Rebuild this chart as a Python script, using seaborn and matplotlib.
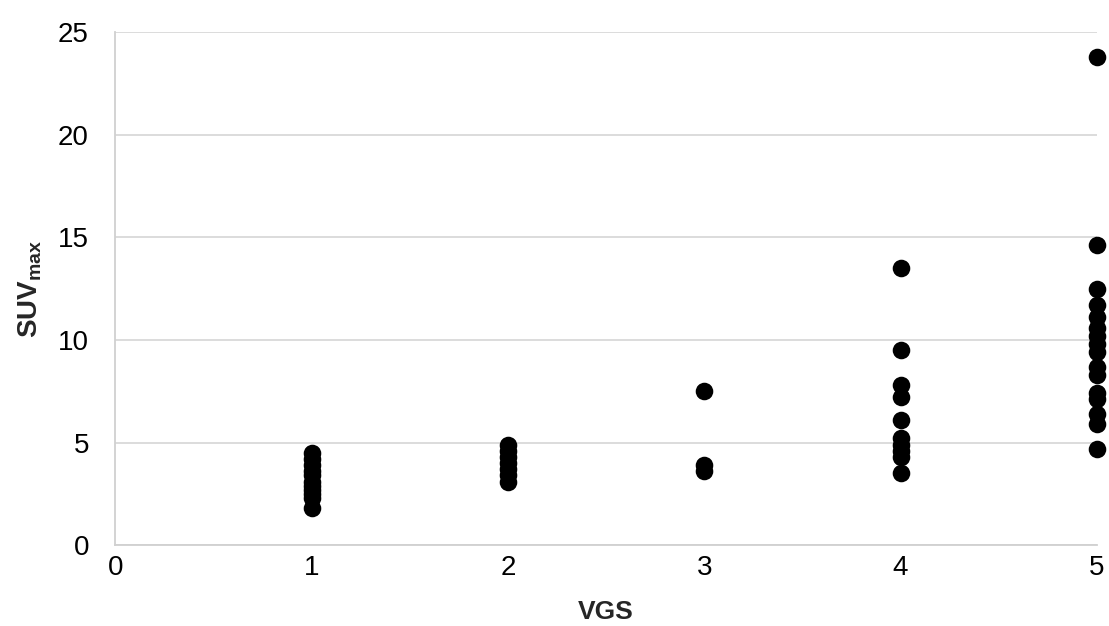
import matplotlib
matplotlib.use('Agg')
import matplotlib.pyplot as plt
import pandas as pd
import seaborn as sn

# values
vgs1 = [4.5, 4.2, 3.9, 3.6, 3.4, 3.1, 2.9, 2.7, 2.5, 2.3, 1.8]
vgs2 = [4.9, 4.6, 4.3, 4.0, 3.7, 3.4, 3.1]
vgs3 = [7.5, 3.9, 3.6]
vgs4 = [13.5, 9.5, 7.8, 7.2, 6.1, 5.2, 4.9, 4.6, 4.3, 3.5]
vgs5 = [23.8, 14.6, 12.5, 11.7, 11.1, 10.6, 10.2, 9.8, 9.4, 8.7, 8.3, 7.4, 7.1, 6.4, 5.9, 4.7]

groups = {1: vgs1, 2: vgs2, 3: vgs3, 4: vgs4, 5: vgs5}
rows = []
for g, vals in groups.items():
    for v in vals:
        rows.append({'VGS': g, 'SUVmax': v})
df = pd.DataFrame(rows)

sn.set_style('white')
plt.rcParams['font.family'] = ['Liberation Sans', 'DejaVu Sans']
plt.rcParams['mathtext.fontset'] = 'custom'
plt.rcParams['mathtext.rm'] = 'Liberation Sans'
plt.rcParams['mathtext.bf'] = 'Liberation Sans:bold'

fig, ax = plt.subplots(figsize=(11.09, 6.26), dpi=100)
fig.subplots_adjust(left=0.104, right=0.989, top=0.949, bottom=0.129)

sn.scatterplot(data=df, x='VGS', y='SUVmax', color='black', s=160,
               edgecolor='black', linewidth=0, ax=ax, clip_on=False, zorder=3)

ax.set_xlim(0, 5)
ax.set_ylim(0, 25)
ax.set_xticks(range(0, 6))
ax.set_yticks(range(0, 26, 5))
ax.yaxis.grid(True, color='#d9d9d9', linewidth=1.3)
ax.xaxis.grid(False)
ax.set_axisbelow(True)
for side in ['top', 'right']:
    ax.spines[side].set_visible(False)
for side in ['bottom', 'left']:
    ax.spines[side].set_color('#d0d0d0')
    ax.spines[side].set_linewidth(1.3)
ax.tick_params(axis='both', length=0, labelsize=20, colors='black')
ax.tick_params(axis='y', pad=19)
ax.tick_params(axis='x', pad=7)

ax.set_xlabel('VGS', fontsize=19, fontweight='bold', labelpad=14)
ax.set_ylabel(r'$\mathbf{SUV}_{\mathbf{max}}$', fontsize=20, labelpad=10)

plt.savefig('out.png', dpi=100)
